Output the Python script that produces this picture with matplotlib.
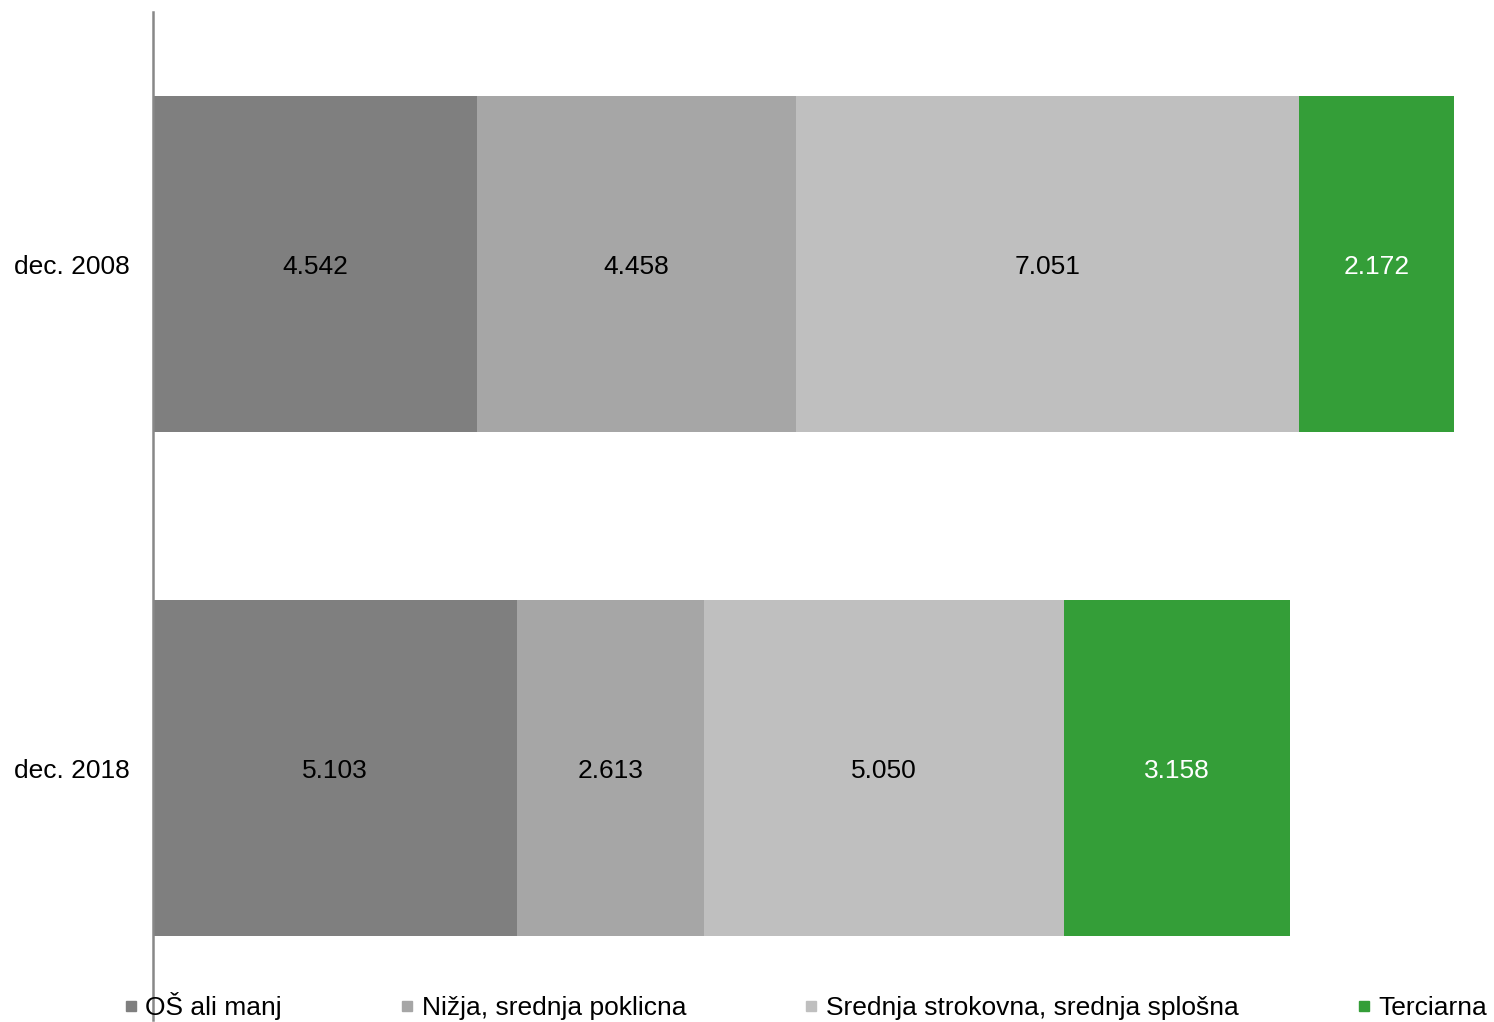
import matplotlib
matplotlib.use("Agg")
import matplotlib.pyplot as plt
from matplotlib.lines import Line2D

plt.rcParams["font.family"] = ["Liberation Sans", "DejaVu Sans"]

periods = ["dec. 2008", "dec. 2018"]
series = [
    "OŠ ali manj",
    "Nižja, srednja poklicna",
    "Srednja strokovna, srednja splošna",
    "Terciarna",
]
values = [
    [4542, 5103],
    [4458, 2613],
    [7051, 5050],
    [2172, 3158],
]
colors = ["#7f7f7f", "#a6a6a6", "#bfbfbf", "#349e38"]
label_colors = ["black", "black", "black", "white"]

W, H = 1494, 1022
fig = plt.figure(figsize=(W / 100, H / 100), dpi=100)
ax = fig.add_axes([153 / W, 2 / H, 1 - 153 / W, 1008 / H])

ypos = list(range(len(periods)))
left = [0] * len(periods)
for name, vals, col, lcol in zip(series, values, colors, label_colors):
    bars = ax.barh(ypos, vals, left=left, height=0.667, color=col, label=name)
    for b, v in zip(bars, vals):
        ax.text(b.get_x() + b.get_width() / 2, b.get_y() + b.get_height() / 2 + 0.005,
                f"{v:,}".replace(",", "."), ha="center", va="center",
                fontsize=19, color=lcol)
    left = [l + v for l, v in zip(left, vals)]

ax.set_xlim(0, 18783)
ax.set_ylim(1.5, -0.5)
ax.set_yticks(ypos)
ax.set_yticklabels(periods, fontsize=19)
ax.tick_params(axis="y", length=0, pad=16.5)
ax.set_xticks([])
for s in ["top", "right", "bottom"]:
    ax.spines[s].set_visible(False)
ax.spines["left"].set_color("#888888")
ax.spines["left"].set_linewidth(1.8)
ax.spines["left"].set_zorder(5)

handles = [Line2D([], [], marker="s", linestyle="none", markersize=7.2,
                  markerfacecolor=c, markeredgecolor=c) for c in colors]
fig.legend(handles, series, loc="center left", bbox_to_anchor=(124 / W, 16 / H),
           ncol=4, frameon=False, fontsize=19, handlelength=0.5,
           handletextpad=0.3, columnspacing=4.5, borderpad=0, borderaxespad=0)

fig.savefig("out.png", dpi=100)
